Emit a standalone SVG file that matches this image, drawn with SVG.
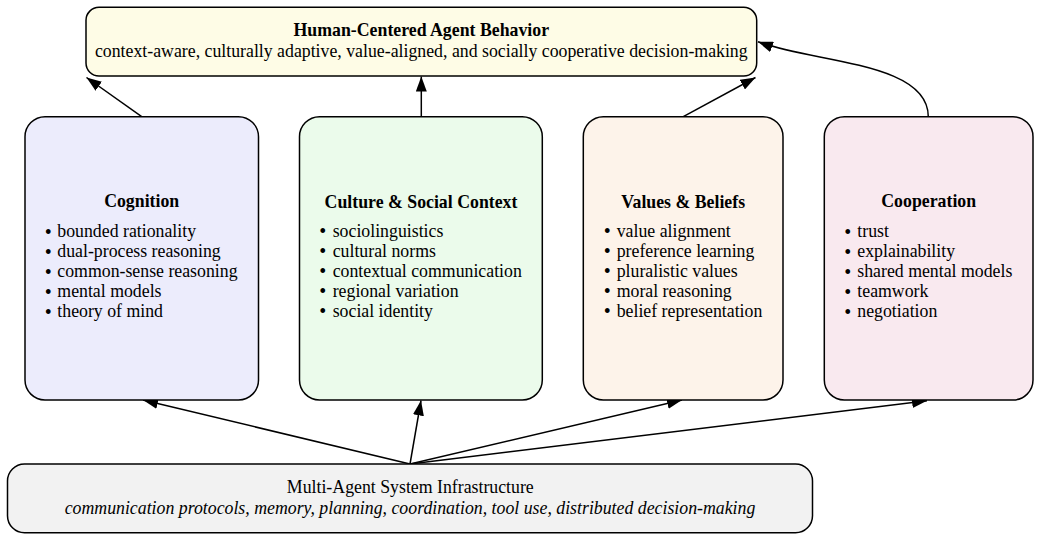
<svg xmlns="http://www.w3.org/2000/svg" width="1040" height="540" viewBox="0 0 1040 540">
<style>
.box{stroke:#000;stroke-width:1.5}
.t{font-family:"Liberation Serif","Times New Roman",serif;font-size:17.8px;fill:#000}
.b{font-weight:bold}
.i{font-style:italic}
.m{text-anchor:middle}
.d{font-size:20px;text-anchor:middle}
.c{fill:none;stroke:#000;stroke-width:1.5}
</style>
<defs>
<marker id="ah" markerUnits="userSpaceOnUse" markerWidth="15" markerHeight="11" refX="15" refY="5.5" orient="auto">
<path d="M0,0 L15,5.5 L0,11 Z" fill="#000"/>
</marker>
</defs>
<rect width="1040" height="540" fill="#fff"/>
<g id="connectors">
<path class="c" d="M141.7,116.7 L86.5,77.5" marker-end="url(#ah)"/>
<path class="c" d="M421.3,116.7 L421.3,76.5" marker-end="url(#ah)"/>
<path class="c" d="M683.3,116.7 L755.5,77.5" marker-end="url(#ah)"/>
<path class="c" d="M928.3,116.7 C928.3,62 815,63 758,41.7" marker-end="url(#ah)"/>
<path class="c" d="M410,464 L143,400" marker-end="url(#ah)"/>
<path class="c" d="M410,464 L421,400.5" marker-end="url(#ah)"/>
<path class="c" d="M410,464 L682,400" marker-end="url(#ah)"/>
<path class="c" d="M410,464 L927,400.7" marker-end="url(#ah)"/>
</g>
<g id="top">
<rect class="box" x="86" y="7.3" width="670.7" height="68.7" rx="13" fill="#fefce6"/>
<text class="t b m" x="421.3" y="35.5">Human-Centered Agent Behavior</text>
<text class="t m" x="421.3" y="57">context-aware, culturally adaptive, value-aligned, and socially cooperative decision-making</text>
</g>
<g id="cognition">
<rect class="box" x="25" y="116.7" width="233.5" height="283.3" rx="20" fill="#ececfc"/>
<text class="t b m" x="141.7" y="206.5">Cognition</text>
<text class="t" y="237"><tspan class="d" x="48.3" dy="1.5">•</tspan><tspan x="57.3" dy="-1.5">bounded rationality</tspan></text>
<text class="t" y="257"><tspan class="d" x="48.3" dy="1.5">•</tspan><tspan x="57.3" dy="-1.5">dual-process reasoning</tspan></text>
<text class="t" y="277"><tspan class="d" x="48.3" dy="1.5">•</tspan><tspan x="57.3" dy="-1.5">common-sense reasoning</tspan></text>
<text class="t" y="297"><tspan class="d" x="48.3" dy="1.5">•</tspan><tspan x="57.3" dy="-1.5">mental models</tspan></text>
<text class="t" y="317"><tspan class="d" x="48.3" dy="1.5">•</tspan><tspan x="57.3" dy="-1.5">theory of mind</tspan></text>
</g>
<g id="culture">
<rect class="box" x="299.5" y="116.7" width="242.8" height="283.3" rx="20" fill="#ebfbeb"/>
<text class="t b m" x="421" y="207.5">Culture &amp; Social Context</text>
<text class="t" y="236.5"><tspan class="d" x="322.7" dy="1.5">•</tspan><tspan x="332.7" dy="-1.5">sociolinguistics</tspan></text>
<text class="t" y="256.5"><tspan class="d" x="322.7" dy="1.5">•</tspan><tspan x="332.7" dy="-1.5">cultural norms</tspan></text>
<text class="t" y="276.5"><tspan class="d" x="322.7" dy="1.5">•</tspan><tspan x="332.7" dy="-1.5">contextual communication</tspan></text>
<text class="t" y="296.5"><tspan class="d" x="322.7" dy="1.5">•</tspan><tspan x="332.7" dy="-1.5">regional variation</tspan></text>
<text class="t" y="316.5"><tspan class="d" x="322.7" dy="1.5">•</tspan><tspan x="332.7" dy="-1.5">social identity</tspan></text>
</g>
<g id="values">
<rect class="box" x="583.3" y="116.7" width="199.7" height="283.3" rx="20" fill="#fdf3ea"/>
<text class="t b m" x="683.2" y="208">Values &amp; Beliefs</text>
<text class="t" y="236.5"><tspan class="d" x="607.3" dy="1.5">•</tspan><tspan x="616.7" dy="-1.5">value alignment</tspan></text>
<text class="t" y="256.5"><tspan class="d" x="607.3" dy="1.5">•</tspan><tspan x="616.7" dy="-1.5">preference learning</tspan></text>
<text class="t" y="276.5"><tspan class="d" x="607.3" dy="1.5">•</tspan><tspan x="616.7" dy="-1.5">pluralistic values</tspan></text>
<text class="t" y="296.5"><tspan class="d" x="607.3" dy="1.5">•</tspan><tspan x="616.7" dy="-1.5">moral reasoning</tspan></text>
<text class="t" y="316.5"><tspan class="d" x="607.3" dy="1.5">•</tspan><tspan x="616.7" dy="-1.5">belief representation</tspan></text>
</g>
<g id="cooperation">
<rect class="box" x="824.3" y="116.7" width="208.7" height="283.3" rx="20" fill="#f9e9ef"/>
<text class="t b m" x="928.7" y="206.5">Cooperation</text>
<text class="t" y="237"><tspan class="d" x="847.7" dy="1.5">•</tspan><tspan x="857.3" dy="-1.5">trust</tspan></text>
<text class="t" y="257"><tspan class="d" x="847.7" dy="1.5">•</tspan><tspan x="857.3" dy="-1.5">explainability</tspan></text>
<text class="t" y="277"><tspan class="d" x="847.7" dy="1.5">•</tspan><tspan x="857.3" dy="-1.5">shared mental models</tspan></text>
<text class="t" y="297"><tspan class="d" x="847.7" dy="1.5">•</tspan><tspan x="857.3" dy="-1.5">teamwork</tspan></text>
<text class="t" y="317"><tspan class="d" x="847.7" dy="1.5">•</tspan><tspan x="857.3" dy="-1.5">negotiation</tspan></text>
</g>
<g id="infrastructure">
<rect class="box" x="7.5" y="464" width="805" height="68.7" rx="17" fill="#f2f2f2"/>
<text class="t m" x="410.3" y="492.5">Multi-Agent System Infrastructure</text>
<text class="t i m" x="410" y="513.5">communication protocols, memory, planning, coordination, tool use, distributed decision-making</text>
</g>
</svg>
